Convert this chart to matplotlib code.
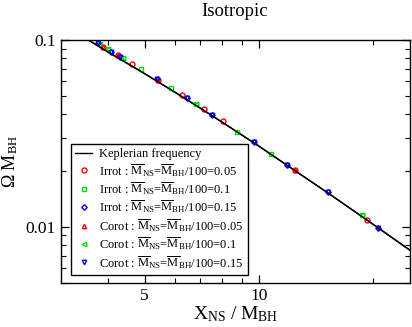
import matplotlib
matplotlib.use("Agg")
import matplotlib.pyplot as plt
from matplotlib.ticker import FixedLocator, NullFormatter, FixedFormatter
import numpy as np

plt.rcParams['font.family'] = ['Liberation Serif', 'DejaVu Serif']
plt.rcParams['mathtext.fontset'] = 'custom'
plt.rcParams['mathtext.rm'] = 'Liberation Serif'
plt.rcParams['mathtext.it'] = 'Liberation Serif:italic'

# Keplerian frequency
kep_x = [3.55, 4.0, 5.0, 6.0, 7.0, 8.0, 10.0, 12.0, 15.0, 20.0, 25.0]
kep_y = [0.100, 0.0863, 0.0660, 0.0526, 0.0432, 0.0363, 0.0270, 0.0210, 0.01545, 0.0103, 0.00749]

# Irrot series
irr05_x = [3.89, 4.24, 4.64, 5.43, 6.28, 7.18, 8.05, 12.46, 19.3]
irr05_y = [0.0918, 0.0832, 0.0745, 0.0611, 0.0508, 0.0428, 0.0370, 0.0202, 0.0109]
irr10_x = [3.80, 3.99, 4.37, 4.90, 5.88, 6.84, 8.77, 10.77, 18.7]
irr10_y = [0.0952, 0.0895, 0.0801, 0.0700, 0.0554, 0.0455, 0.0323, 0.0246, 0.0115]
irr15_x = [3.77, 4.08, 4.31, 5.37, 6.47, 7.53, 9.72, 11.87, 15.2, 20.6]
irr15_y = [0.0964, 0.0863, 0.0811, 0.0619, 0.0490, 0.0398, 0.0285, 0.0215, 0.0154, 0.0099]

# Corot series (mostly hidden under the irrot markers)
cor05_x = [3.89, 4.24, 5.43, 12.46]
cor05_y = [0.0918, 0.0832, 0.0611, 0.0202]
cor10_x = [3.99, 4.37, 6.84, 18.7]
cor10_y = [0.0895, 0.0801, 0.0455, 0.0115]
cor15_x = [3.77, 4.08, 4.31, 5.37, 6.47, 7.53, 9.72, 11.87, 15.2, 20.6]
cor15_y = [0.0964, 0.0863, 0.0811, 0.0619, 0.0490, 0.0398, 0.0285, 0.0215, 0.0154, 0.0099]

lab = r'$\overline{\mathrm{M}}_{\mathrm{NS}}$=$\overline{\mathrm{M}}_{\mathrm{BH}}$/100='

fig = plt.figure(figsize=(4.12, 3.27), dpi=100)
ax = fig.add_axes([0.147, 0.1346, 0.848, 0.7431])

ax.plot(kep_x, kep_y, color='black', lw=1.0, label='Keplerian frequency', zorder=1)
ms = 3.6
mew = 1.0
ax.plot(irr05_x, irr05_y, 'o', mfc='none', mec='red', ms=ms, mew=mew, label='Irrot : ' + lab + '0.05')
ax.plot(irr10_x, irr10_y, 's', mfc='none', mec='#00e000', ms=ms - 0.4, mew=mew, label='Irrot : ' + lab + '0.1')
ax.plot(irr15_x, irr15_y, 'D', mfc='none', mec='blue', ms=ms - 0.8, mew=mew, label='Irrot : ' + lab + '0.15')
ax.plot(cor05_x, cor05_y, '^', mfc='none', mec='red', ms=ms - 0.4, mew=mew, label='Corot : ' + lab + '0.05')
ax.plot(cor10_x, cor10_y, '<', mfc='none', mec='#00e000', ms=ms - 0.4, mew=mew, label='Corot : ' + lab + '0.1')
ax.plot(cor15_x, cor15_y, 'v', mfc='none', mec='blue', ms=ms - 0.4, mew=mew, label='Corot : ' + lab + '0.15')
# keep the line visible through the markers
ax.plot(kep_x, kep_y, color='black', lw=1.0, zorder=5)

ax.set_xscale('log')
ax.set_yscale('log')
ax.set_xlim(3, 25)
ax.set_ylim(0.005, 0.1)

ax.xaxis.set_major_locator(FixedLocator([5, 10]))
ax.xaxis.set_major_formatter(FixedFormatter(['5', '10']))
ax.xaxis.set_minor_locator(FixedLocator([4, 6, 7, 8, 9, 20]))
ax.xaxis.set_minor_formatter(NullFormatter())
ax.yaxis.set_major_locator(FixedLocator([0.01, 0.1]))
ax.yaxis.set_major_formatter(FixedFormatter(['0.01', '0.1']))
ax.yaxis.set_minor_locator(FixedLocator([0.005, 0.006, 0.007, 0.008, 0.009,
                                         0.02, 0.03, 0.04, 0.05, 0.06, 0.07, 0.08, 0.09]))
ax.yaxis.set_minor_formatter(NullFormatter())

ax.tick_params(which='both', direction='in', top=True, right=True, labelsize=12.5)
ax.tick_params(which='major', length=6, width=0.9)
ax.tick_params(which='minor', length=3.5, width=0.8)
for s in ax.spines.values():
    s.set_linewidth(1.0)

ax.set_xlabel(r'X$_{\mathrm{NS}}$ / M$_{\mathrm{BH}}$', fontsize=14, labelpad=0)
ax.set_ylabel(r'$\Omega$ M$_{\mathrm{BH}}$', fontsize=13, labelpad=4)
fig.text(0.57, 0.99, 'Isotropic', ha='center', va='top', fontsize=13.5)

leg = ax.legend(loc='lower left', bbox_to_anchor=(0.03, 0.033), fontsize=9,
                frameon=True, fancybox=False, edgecolor='black', framealpha=1,
                handlelength=1.3, handletextpad=0.6, borderpad=0.35, labelspacing=0.12,
                borderaxespad=0, numpoints=1)
leg.get_frame().set_linewidth(1.0)

fig.savefig('out.png', dpi=100)
